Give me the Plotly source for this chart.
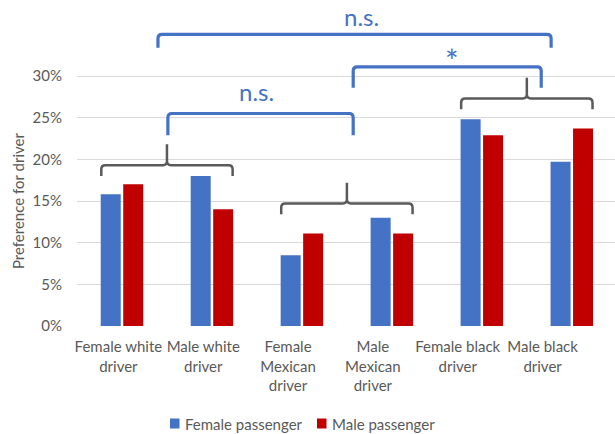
import plotly.graph_objects as go

# Driver categories and tick labels
categories = ["Female white driver", "Male white driver", "Female Mexican driver",
              "Male Mexican driver", "Female black driver", "Male black driver"]
tick_labels = ["Female white<br>driver", "Male white<br>driver", "Female<br>Mexican<br>driver",
               "Male<br>Mexican<br>driver", "Female black<br>driver", "Male black<br>driver"]
y_ticks = [0, 5, 10, 15, 20, 25, 30]
y_tick_labels = [f"{v}%" for v in y_ticks]

# Preference for driver (%), by passenger gender
series_names = ["Female passenger", "Male passenger"]
female_passenger = [15.8, 18.0, 8.5, 13.0, 24.8, 19.7]
male_passenger = [17.0, 14.0, 11.1, 11.1, 22.9, 23.7]

# Significance labels of the three comparisons
comparison_labels = ["n.s.", "*", "n.s."]

BLUE = "#4472C4"
RED = "#C00000"
GREY_TEXT = "#595959"
BRACE = "#5a5a5a"
FONT = "Lato"

# Group braces: (first category, last category, brace level in %)
group_braces = [(0, 1, 19.3), (2, 3, 14.7), (4, 5, 27.3)]

# Comparison bracket geometry: (left x, right x, top %, leg depth %, label x, label y, label size)
comparison_geom = [
    (0.51, 2.57, 25.5, 2.6, 1.50, 28.1, 24),
    (2.57, 4.66, 31.1, 2.5, 3.67, 31.9, 32),
    (0.40, 4.77, 35.0, 1.6, 2.66, 37.1, 24),
]

W, H = 615, 434
ML, MR, MT, MB = 77, 0, 8, 108
PW, PH = W - ML - MR, H - MT - MB


def px_to_paper(px, py):
    """Convert page pixel position to paper coordinates."""
    return (px - ML) / PW, (H - MB - py) / PH


x_idx = list(range(len(categories)))

fig = go.Figure()
fig.add_trace(go.Bar(x=x_idx, y=female_passenger, name=series_names[0],
                     marker=dict(color=BLUE, line=dict(width=0)), hoverinfo="y"))
fig.add_trace(go.Bar(x=x_idx, y=male_passenger, name=series_names[1],
                     marker=dict(color=RED, line=dict(width=0)), hoverinfo="y"))

# rounded-corner radius in data units
rx, ry = 0.045, 0.5

shapes = []
for a, b, h in group_braces:
    left, right = a - 0.23, b + 0.23
    c = (a + b) / 2
    hook, tick = 1.3, 2.5
    path = (f"M{left},{h - hook} L{left},{h - ry} Q{left},{h} {left + rx},{h} "
            f"L{c - rx},{h} Q{c},{h} {c},{h + ry} L{c},{h + tick} "
            f"M{c},{h + ry} Q{c},{h} {c + rx},{h} "
            f"L{right - rx},{h} Q{right},{h} {right},{h - ry} L{right},{h - hook}")
    shapes.append(dict(type="path", path=path, xref="x", yref="y",
                       line=dict(color=BRACE, width=2.5), layer="above"))

annotations = []
for label, (x0, x1, top, depth, lx, ly, size) in zip(comparison_labels, comparison_geom):
    path = (f"M{x0},{top - depth} L{x0},{top - ry} Q{x0},{top} {x0 + rx},{top} "
            f"L{x1 - rx},{top} Q{x1},{top} {x1},{top - ry} L{x1},{top - depth}")
    shapes.append(dict(type="path", path=path, xref="x", yref="y",
                       line=dict(color=BLUE, width=3.2), layer="above"))
    annotations.append(dict(x=lx, y=ly, xref="x", yref="y", text=label, showarrow=False,
                            font=dict(family=FONT, size=size, color=BLUE),
                            xanchor="center", yanchor="middle"))

# legend: colour swatch followed by series name
legend_items = [(170, BLUE, series_names[0]), (317, RED, series_names[1])]
for sx, color, name in legend_items:
    x0, y0 = px_to_paper(sx, 428.5)
    x1, y1 = px_to_paper(sx + 9.5, 418.5)
    shapes.append(dict(type="rect", xref="paper", yref="paper", x0=x0, x1=x1, y0=y0, y1=y1,
                       fillcolor=color, line=dict(width=0)))
    tx, ty = px_to_paper(sx + 12.5, 423.5)
    annotations.append(dict(x=tx, y=ty, xref="paper", yref="paper", text=name,
                            showarrow=False, xanchor="left", yanchor="middle",
                            font=dict(family=FONT, size=15, color=GREY_TEXT)))

# y-axis title
tx, ty = px_to_paper(18, 201)
annotations.append(dict(x=tx, y=ty, xref="paper", yref="paper", text="Preference for driver",
                        textangle=-90, showarrow=False, xanchor="center", yanchor="middle",
                        font=dict(family=FONT, size=15, color=GREY_TEXT)))

# category label positions along the axis
label_pos = [i * 0.943 - 0.04 for i in x_idx]

fig.update_layout(
    width=W, height=H,
    margin=dict(l=ML, r=MR, t=MT, b=MB),
    paper_bgcolor="white", plot_bgcolor="white",
    barmode="group", bargap=0.5, bargroupgap=0.11,
    font=dict(family=FONT, size=14, color=GREY_TEXT),
    shapes=shapes, annotations=annotations,
    showlegend=False,
    xaxis=dict(range=[-0.5, 5.48], tickmode="array", tickvals=label_pos, ticktext=tick_labels,
               showgrid=False, zeroline=False, showline=False, ticks="", automargin=False,
               ticklabelstandoff=10,
               tickfont=dict(family=FONT, size=15, color=GREY_TEXT)),
    yaxis=dict(range=[0, 38.16], tickmode="array", tickvals=y_ticks, ticktext=y_tick_labels,
               showgrid=True, gridcolor="#d9d9d9", gridwidth=1, automargin=False,
               zeroline=False, showline=False, ticks="", ticklabelstandoff=14,
               tickfont=dict(family=FONT, size=15, color=GREY_TEXT)),
)

fig.write_html("out.html")
